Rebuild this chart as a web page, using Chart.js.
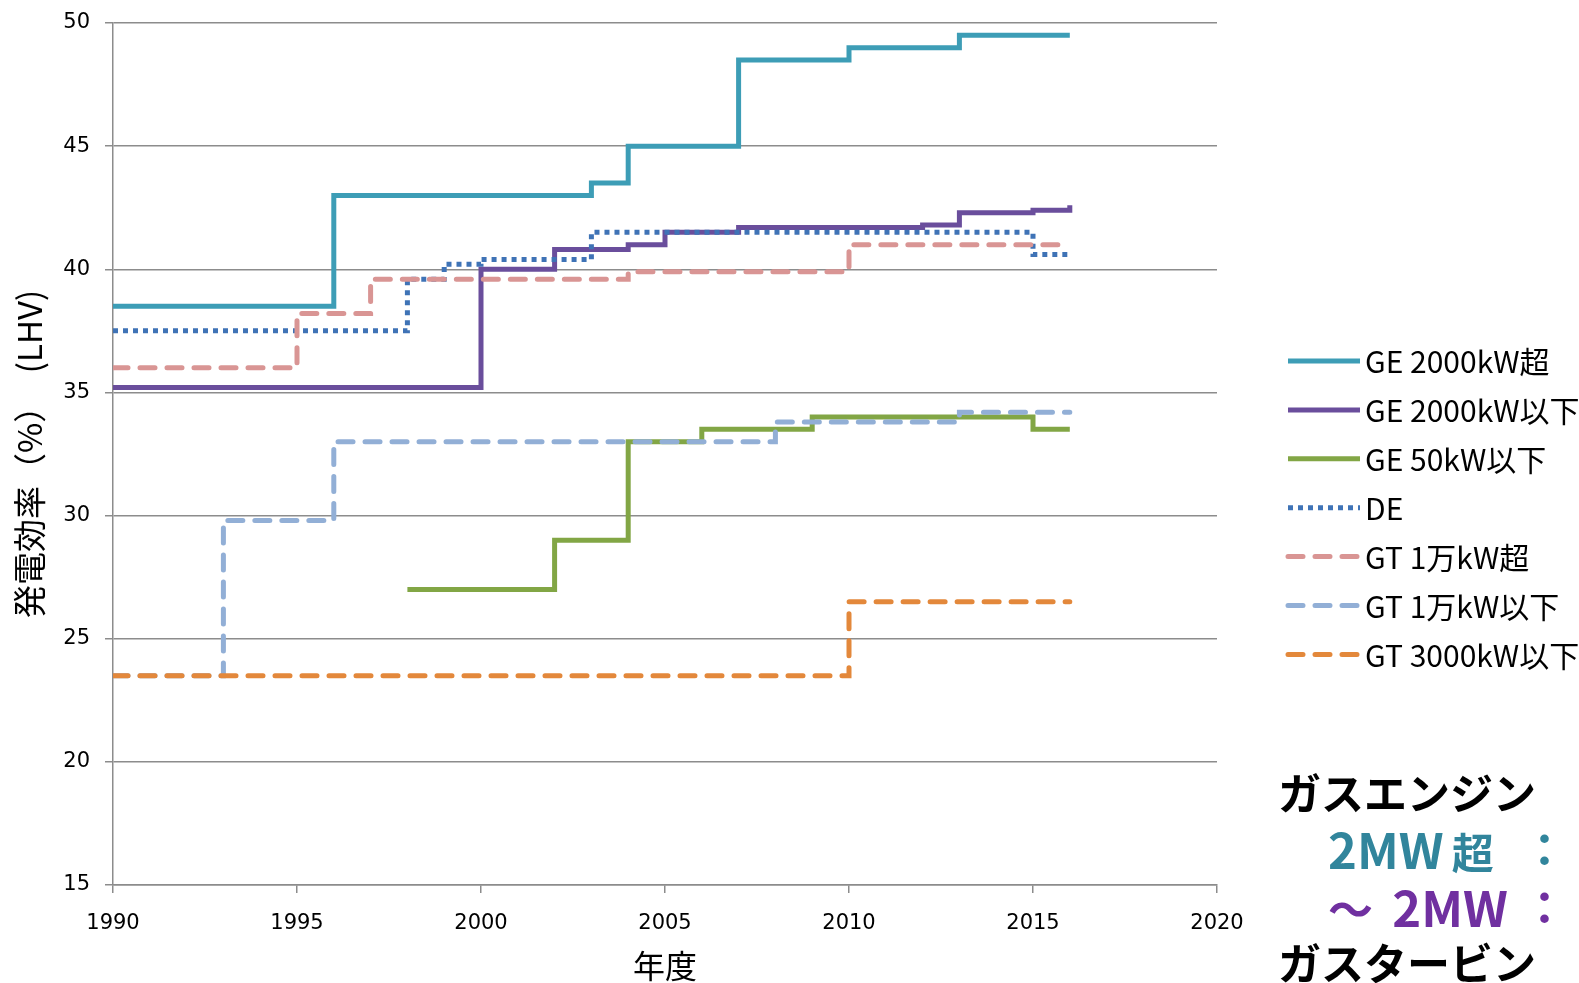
<!DOCTYPE html>
<html lang="ja">
<head>
<meta charset="utf-8">
<title>発電効率の推移</title>
<script src="https://cdn.jsdelivr.net/npm/chart.js@4.4.1/dist/chart.umd.min.js"></script>
<style>
  html, body { margin: 0; padding: 0; background: #fff; width: 1579px; height: 983px; overflow: hidden; }
  #wrap { position: relative; width: 1579px; height: 983px; overflow: hidden; }
  #chart { position: absolute; left: 0; top: 0; display: block; }
  .note {
    position: absolute;
    font-family: "Noto Sans CJK JP", sans-serif;
    font-weight: 700;
    white-space: nowrap;
  }
  .head { font-size: 43px; line-height: 43px; color: #000; }
  .sub { font-size: 45px; line-height: 45px; }
  .lat { font-family: "Liberation Sans Narrow", "Noto Sans CJK JP", sans-serif; font-size: 49px; }
  .teal { color: #31859c; }
  .purple { color: #7030a0; }
</style>
</head>
<body>
<div id="wrap">
  <canvas id="chart" width="1579" height="983"></canvas>
  <div class="note head" style="left:1278px; top:770px;">ガスエンジン</div>
  <div class="note sub teal" style="left:1328px; top:825px;"><span class="lat">2MW </span><span style="margin-left:-3px; font-size:42px;">超</span></div>
  <div class="note sub teal" style="left:1522px; top:825px;">：</div>
  <div class="note sub purple" style="left:1328px; top:883px;">～ <span class="lat" style="margin-left:9px;">2MW</span></div>
  <div class="note sub purple" style="left:1522px; top:883px;">：</div>
  <div class="note head" style="left:1278px; top:940px;">ガスタービン</div>
</div>
<script>
// 年度 (x) と 発電効率 (y) の軸範囲
const yearMin = 1990, yearMax = 2020, yearStep = 5;
const effMin = 15, effMax = 50, effStep = 5;

// 系列名
const seriesLabels = [
    'GE 2000kW超',
    'GE 2000kW以下',
    'GE 50kW以下',
    'DE',
    'GT 1万kW超',
    'GT 1万kW以下',
    'GT 3000kW以下'
];

// 各系列: 値が変わる年 と その年からの値 (階段状)
const geOverYears   = [1990, 1996, 2003, 2004, 2007, 2010, 2013, 2016];
const geOverValues  = [38.5, 43.0, 43.5, 45.0, 48.5, 49.0, 49.5, 49.5];

const geUnderYears  = [1990, 2000, 2002, 2004, 2005, 2007, 2012, 2013, 2015, 2016];
const geUnderValues = [35.2, 40.0, 40.8, 41.0, 41.5, 41.7, 41.8, 42.3, 42.4, 42.6];

const ge50Years     = [1998, 2002, 2004, 2006, 2009, 2015, 2016];
const ge50Values    = [27.0, 29.0, 33.0, 33.5, 34.0, 33.5, 33.5];

const deYears       = [1990, 1998, 1999, 2000, 2003, 2015, 2016];
const deValues      = [37.5, 39.6, 40.2, 40.4, 41.5, 40.6, 40.6];

const gtOverYears   = [1990, 1995, 1997, 2004, 2010, 2016];
const gtOverValues  = [36.0, 38.2, 39.6, 39.9, 41.0, 41.0];

const gtUnderYears  = [1990, 1993, 1996, 2008, 2013, 2016];
const gtUnderValues = [23.5, 29.8, 33.0, 33.8, 34.2, 34.2];

const gt3000Years   = [1990, 2010, 2016];
const gt3000Values  = [23.5, 26.5, 26.5];

const toPoints = (years, values) => years.map((y, i) => ({ x: y, y: values[i] }));

const seriesData = [
    toPoints(geOverYears, geOverValues),
    toPoints(geUnderYears, geUnderValues),
    toPoints(ge50Years, ge50Values),
    toPoints(deYears, deValues),
    toPoints(gtOverYears, gtOverValues),
    toPoints(gtUnderYears, gtUnderValues),
    toPoints(gt3000Years, gt3000Values)
];

// 線のスタイル
const lineStyles = [
    { color: '#3d9db6', dash: [], cap: 'butt' },
    { color: '#6a4e9c', dash: [], cap: 'butt' },
    { color: '#82a645', dash: [], cap: 'butt' },
    { color: '#3f73b6', dash: [5, 5], cap: 'butt' },
    { color: '#d99594', dash: [15, 12], cap: 'round' },
    { color: '#92afd6', dash: [15, 12], cap: 'round' },
    { color: '#e3883b', dash: [15, 12], cap: 'round' }
];

const gridColor = '#8c8c8c';
const tickFont = { family: '"DejaVu Sans", sans-serif', size: 21 };

// 右側の凡例 (線サンプル + ラベル)
const sideLegend = {
    id: 'sideLegend',
    afterDraw(chart) {
        const ctx = chart.ctx;
        const x0 = chart.chartArea.right + 71;
        chart.data.datasets.forEach((ds, i) => {
            const y = 361 + i * 48.9;
            ctx.save();
            ctx.strokeStyle = ds.borderColor;
            ctx.lineWidth = ds.borderWidth;
            ctx.lineCap = ds.borderCapStyle;
            ctx.setLineDash(ds.borderDash);
            ctx.beginPath();
            ctx.moveTo(x0, y);
            ctx.lineTo(x0 + 72, y);
            ctx.stroke();
            ctx.setLineDash([]);
            ctx.fillStyle = '#000';
            ctx.font = '30px "Noto Sans CJK JP", sans-serif';
            ctx.textBaseline = 'middle';
            ctx.fillText(ds.label, x0 + 77, y + 1);
            ctx.restore();
        });
    }
};

const ctx = document.getElementById('chart').getContext('2d');
new Chart(ctx, {
    type: 'line',
    data: {
        datasets: seriesLabels.map((label, i) => ({
            label: label,
            data: seriesData[i],
            borderColor: lineStyles[i].color,
            backgroundColor: lineStyles[i].color,
            borderWidth: 5,
            borderDash: lineStyles[i].dash,
            borderCapStyle: lineStyles[i].cap,
            stepped: 'before',
            pointRadius: 0,
            fill: false,
            order: 10 - i
        }))
    },
    options: {
        responsive: false,
        animation: false,
        layout: { padding: { top: 23, right: 362, bottom: 0, left: 0 } },
        plugins: {
            legend: { display: false },
            tooltip: { enabled: false }
        },
        scales: {
            x: {
                type: 'linear',
                min: yearMin,
                max: yearMax,
                afterFit: s => { s.height = 98; },
                ticks: {
                    stepSize: yearStep,
                    callback: v => String(v),
                    color: '#000',
                    padding: 18,
                    maxRotation: 0,
                    font: tickFont
                },
                grid: { drawOnChartArea: false, drawTicks: true, tickLength: 8, color: gridColor, lineWidth: 1.5 },
                border: { color: gridColor, width: 1.5 },
                title: {
                    display: true,
                    text: '年度',
                    color: '#000',
                    padding: { top: 0, bottom: 0 },
                    font: { family: '"Noto Sans CJK JP", sans-serif', size: 32, lineHeight: 1.1 }
                }
            },
            y: {
                min: effMin,
                max: effMax,
                afterFit: s => {
                    s.width = 113;
                    s.paddingTop = 12;
                    s.paddingBottom = 12;
                },
                ticks: {
                    stepSize: effStep,
                    color: '#000',
                    padding: 15,
                    font: tickFont
                },
                grid: { drawTicks: true, tickLength: 8, color: gridColor, lineWidth: 1.5 },
                border: { color: gridColor, width: 1.5 },
                title: {
                    display: true,
                    text: '発電効率（%）　(LHV)',
                    color: '#000',
                    padding: { top: 10, bottom: 4 },
                    font: { family: '"Noto Sans CJK JP", sans-serif', size: 33 }
                }
            }
        }
    },
    plugins: [sideLegend]
});
</script>
</body>
</html>
